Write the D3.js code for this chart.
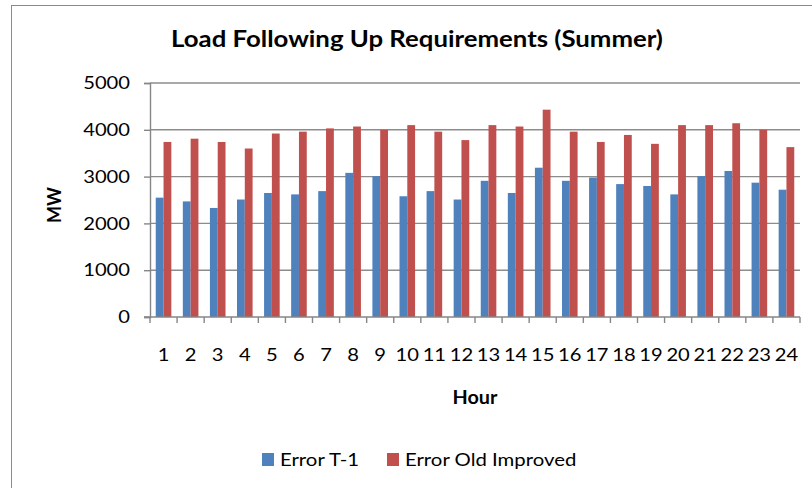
<!DOCTYPE html>
<html>
<head>
<meta charset="UTF-8">
<script src="https://cdnjs.cloudflare.com/ajax/libs/d3/7.8.5/d3.min.js"></script>
<style>
    body { margin: 0; background: #ffffff; }
    svg text { font-family: Lato, "Open Sans", sans-serif; fill: #000; }
</style>
</head>
<body>
<svg id="chart" width="812" height="488"></svg>
<script>
// hours on the x axis
var hours = ["1","2","3","4","5","6","7","8","9","10","11","12","13","14","15","16","17","18","19","20","21","22","23","24"];
// series values (MW)
var errorT1 = [2550,2470,2330,2510,2650,2620,2690,3080,3010,2580,2690,2510,2910,2650,3190,2910,2980,2840,2800,2620,3010,3120,2870,2720];
var errorOldImproved = [3740,3810,3740,3600,3920,3960,4030,4070,4000,4100,3960,3780,4100,4070,4430,3960,3740,3890,3700,4100,4100,4140,4000,3630];
var seriesNames = ["Error T-1", "Error Old Improved"];
var seriesColors = ["#4F81BD", "#C0504D"];
var yTicks = [0, 1000, 2000, 3000, 4000, 5000];

var svg = d3.select("#chart");

// the source image is a bit stretched sideways, so widen the text
function widen(sel, f) {
    sel.each(function(){
        var w = this.getComputedTextLength();
        d3.select(this).attr("textLength", w * f).attr("lengthAdjust", "spacingAndGlyphs");
    });
}

// outer chart border (only top/left fall inside the picture)
svg.append("rect")
    .attr("x", 11.5).attr("y", 5.5)
    .attr("width", 820).attr("height", 500)
    .attr("fill", "none").attr("stroke", "#8a8a8a").attr("stroke-width", 1);

var plot = {left: 150, right: 800, top: 83, bottom: 317};

var x = d3.scaleBand().domain(hours).range([plot.left, plot.right]).paddingInner(0).paddingOuter(0);
var xSub = d3.scaleBand().domain(seriesNames)
    .range([x.bandwidth() * 0.212, x.bandwidth() * 0.788]);
var y = d3.scaleLinear().domain([0, 5000]).range([plot.bottom, plot.top]);

// gridlines
svg.append("g").selectAll("line").data(yTicks.filter(function(d){ return d > 0; })).enter()
    .append("line")
    .attr("x1", plot.left).attr("x2", plot.right)
    .attr("y1", function(d){ return y(d); }).attr("y2", function(d){ return y(d); })
    .attr("stroke", "#8c8c8c").attr("stroke-width", 1.4);

// bars
var rows = hours.map(function(h, i){
    return {hour: h, vals: [errorT1[i], errorOldImproved[i]]};
});
var grp = svg.append("g").selectAll("g").data(rows).enter()
    .append("g")
    .attr("transform", function(d){ return "translate(" + x(d.hour) + ",0)"; });
grp.selectAll("rect").data(function(d){
        return d.vals.map(function(v, k){ return {name: seriesNames[k], value: v, color: seriesColors[k]}; });
    }).enter()
    .append("rect")
    .attr("x", function(d){ return xSub(d.name); })
    .attr("width", xSub.bandwidth())
    .attr("y", function(d){ return y(d.value); })
    .attr("height", function(d){ return y(0) - y(d.value); })
    .attr("fill", function(d){ return d.color; });

// y axis
var yAxis = svg.append("g")
    .attr("transform", "translate(" + plot.left + ",0)")
    .call(d3.axisLeft(y).tickValues(yTicks).tickSize(6).tickPadding(14).tickFormat(d3.format("d")));
yAxis.select(".domain").attr("stroke", "#868686").attr("stroke-width", 1.4);
yAxis.selectAll(".tick line").attr("stroke", "#868686").attr("stroke-width", 1.4);
yAxis.selectAll("text").attr("font-size", 18).style("font-family", "Lato");
widen(yAxis.selectAll("text"), 1.12);

// x axis: ticks at band edges
var xAxisG = svg.append("g").attr("transform", "translate(0," + plot.bottom + ")");
xAxisG.append("line").attr("x1", plot.left - 6).attr("x2", plot.right)
    .attr("stroke", "#868686").attr("stroke-width", 1.4);
var edges = hours.map(function(h){ return x(h); }).concat([plot.right]);
xAxisG.selectAll("line.edge").data(edges).enter().append("line")
    .attr("class", "edge")
    .attr("x1", function(d){ return d; }).attr("x2", function(d){ return d; })
    .attr("y1", 0).attr("y2", 6)
    .attr("stroke", "#868686").attr("stroke-width", 1.4);
var xLabels = xAxisG.selectAll("text").data(hours).enter().append("text")
    .attr("x", function(d){ return x(d) + x.bandwidth() / 2; })
    .attr("y", 38)
    .attr("dy", "0.35em")
    .attr("text-anchor", "middle")
    .attr("font-size", 18)
    .text(function(d){ return d; });
widen(xLabels, 1.12);

// title and axis titles
var title = svg.append("text")
    .attr("x", 417).attr("y", 47)
    .attr("text-anchor", "middle")
    .attr("font-size", 23).attr("font-weight", "bold")
    .text("Load Following Up Requirements (Summer)");
widen(title, 1.12);

var xTitle = svg.append("text")
    .attr("x", (plot.left + plot.right) / 2).attr("y", 404)
    .attr("text-anchor", "middle")
    .attr("font-size", 18).attr("font-weight", "bold")
    .text("Hour");
widen(xTitle, 1.1);

svg.append("text")
    .attr("transform", "translate(61,205) rotate(-90)")
    .attr("text-anchor", "middle")
    .attr("font-size", 18).attr("font-weight", "bold")
    .text("MW");

// legend
var legendX = [262, 387];
var leg = svg.append("g").selectAll("g").data(seriesNames).enter()
    .append("g")
    .attr("transform", function(d, i){ return "translate(" + legendX[i] + ",453)"; });
leg.append("rect").attr("width", 12).attr("height", 13)
    .attr("fill", function(d, i){ return seriesColors[i]; });
var legText = leg.append("text").attr("x", 18).attr("y", 13)
    .attr("font-size", 18)
    .text(function(d){ return d; });
widen(legText, 1.13);
</script>
</body>
</html>
